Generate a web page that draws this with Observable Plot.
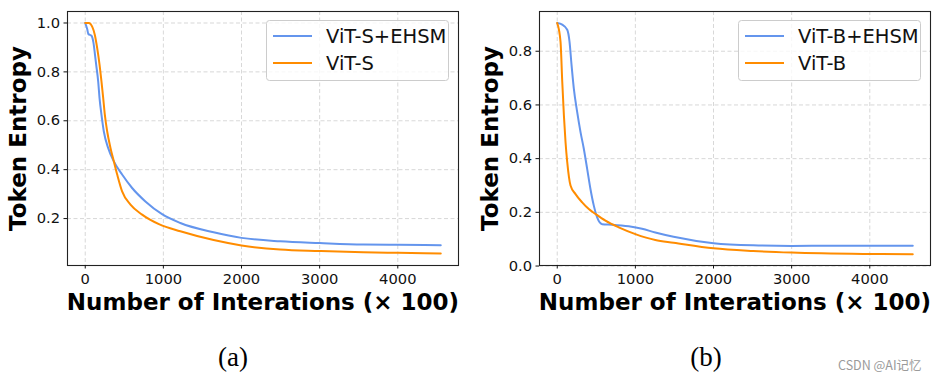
<!DOCTYPE html>
<html><head><meta charset="utf-8">
<script src="https://cdn.jsdelivr.net/npm/d3@7"></script>
<script src="https://cdn.jsdelivr.net/npm/@observablehq/plot@0.6"></script>
<style>
body{margin:0;background:#fff;width:944px;height:378px;overflow:hidden;position:relative;font-family:"DejaVu Sans";}
#row{display:flex;position:absolute;left:0;top:0;}
.cap{position:absolute;font-family:"Liberation Serif";font-size:27px;color:#000;transform:translate(-50%,-50%);white-space:nowrap;}
.wm{position:absolute;left:838px;top:355px;font-family:"Noto Sans CJK SC","DejaVu Sans";font-size:12.5px;color:#9a9a9a;white-space:nowrap;}
</style></head><body>
<div id="row"></div>
<div class="cap" style="left:233px;top:357px">(a)</div>
<div class="cap" style="left:706px;top:357px">(b)</div>
<div class="wm">CSDN @AI记忆</div>
<script>
// ---- data ----
const xTicks = [0, 1000, 2000, 3000, 4000];
const yTicksA = [0.2, 0.4, 0.6, 0.8, 1.0];
const yTicksB = [0.0, 0.2, 0.4, 0.6, 0.8];
const namesA = ["ViT-S+EHSM", "ViT-S"];
const namesB = ["ViT-B+EHSM", "ViT-B"];
const colors = ["#6495ED", "#FF8C00"];
const xLabel = "Number of Interations (× 100)";
const yLabel = "Token Entropy";

const iterA_ehsm = [0, 25, 40, 80, 105, 125, 140, 166, 183, 208, 238, 293, 366, 472, 600, 770, 983, 1217, 1643, 2000, 2494, 3000, 3558, 4000, 4550];
const entA_ehsm  = [1.0, 0.975, 0.955, 0.948, 0.92, 0.87, 0.83, 0.76, 0.693, 0.624, 0.556, 0.489, 0.434, 0.38, 0.325, 0.27, 0.218, 0.182, 0.144, 0.121, 0.107, 0.10, 0.094, 0.093, 0.091];
const iterA_base = [0, 46, 89, 123, 153, 183, 208, 230, 251, 281, 323, 366, 409, 472, 579, 728, 950, 1217, 1643, 2000, 2494, 3000, 3558, 4000, 4550];
const entA_base  = [1.0, 1.0, 0.985, 0.951, 0.897, 0.83, 0.76, 0.693, 0.624, 0.556, 0.489, 0.434, 0.38, 0.311, 0.257, 0.216, 0.176, 0.148, 0.112, 0.09, 0.073, 0.067, 0.062, 0.06, 0.057];

const iterB_ehsm = [0, 64, 128, 157, 183, 212, 255, 298, 340, 383, 425, 468, 511, 575, 702, 915, 1085, 1255, 1489, 2000, 2507, 3000, 4000, 4550];
const entB_ehsm  = [0.905, 0.899, 0.88, 0.836, 0.749, 0.662, 0.574, 0.499, 0.437, 0.362, 0.287, 0.225, 0.181, 0.156, 0.154, 0.148, 0.139, 0.125, 0.109, 0.085, 0.077, 0.075, 0.076, 0.076];
const iterB_base = [0, 42, 64, 85, 106, 128, 170, 234, 319, 404, 489, 617, 787, 1000, 1255, 1489, 2000, 2507, 3000, 4000, 4550];
const entB_base  = [0.905, 0.836, 0.687, 0.562, 0.462, 0.387, 0.30, 0.268, 0.237, 0.212, 0.194, 0.169, 0.144, 0.119, 0.097, 0.087, 0.066, 0.056, 0.05, 0.045, 0.044];

function rows(names, pairs) {
  return pairs.flatMap(([xs, ys], i) => xs.map((x, j) => ({series: names[i], iter: x, ent: ys[j]})));
}

function panel(names, pairs, yDomain, yTicks) {
  const data = rows(names, pairs);
  const svg = Plot.plot({
    width: 472, height: 320,
    marginLeft: 67, marginRight: 14, marginTop: 11, marginBottom: 55,
    style: {fontFamily: "DejaVu Sans", fontSize: "14.7px", color: "#111", background: "white"},
    x: {domain: [-227, 4777]},
    y: {domain: yDomain},
    color: {domain: names, range: colors},
    marks: [
      Plot.gridX(xTicks, {stroke: "#b0b0b0", strokeOpacity: 0.55, strokeDasharray: "4,2.5", strokeWidth: 0.9}),
      Plot.gridY(yTicks, {stroke: "#b0b0b0", strokeOpacity: 0.55, strokeDasharray: "4,2.5", strokeWidth: 0.9}),
      Plot.line(data, {x: "iter", y: "ent", z: "series", stroke: "series", strokeWidth: 2, curve: "monotone-x"}),
      Plot.frame({stroke: "#222", strokeWidth: 1.1}),
      Plot.axisX(xTicks, {tickSize: 3.5, tickPadding: 5, tickFormat: d3.format("d"), label: null}),
      Plot.axisY(yTicks, {tickSize: 3.5, tickPadding: 4, tickFormat: d3.format(".1f"), label: null}),
      Plot.text([xLabel], {frameAnchor: "bottom", dy: 37, lineAnchor: "middle", textAnchor: "middle", fontSize: 23, fontWeight: "bold", text: d => d, fill: "#000"}),
      Plot.text([yLabel], {frameAnchor: "left", dx: -49, rotate: -90, lineAnchor: "middle", textAnchor: "middle", fontSize: 23, fontWeight: "bold", text: d => d, fill: "#000"})
    ]
  });
  const g = d3.select(svg).append("g").attr("text-anchor", "start");
  g.append("rect").attr("x", 266.5).attr("y", 20.5).attr("width", 182).attr("height", 60)
    .attr("rx", 3).attr("fill", "white").attr("fill-opacity", 0.8).attr("stroke", "#cccccc");
  names.forEach((n, i) => {
    const y = 36 + i * 27;
    g.append("line").attr("x1", 273).attr("x2", 312).attr("y1", y).attr("y2", y)
      .attr("stroke", colors[i]).attr("stroke-width", 2);
    g.append("text").attr("x", 326).attr("y", y).attr("dy", "0.35em").attr("text-anchor", "start")
      .attr("font-size", 19.5).attr("font-family", "DejaVu Sans").attr("fill", "#111").text(n);
  });
  return svg;
}

const row = document.getElementById("row");
row.appendChild(panel(namesA, [[iterA_ehsm, entA_ehsm], [iterA_base, entA_base]], [0.008, 1.047], yTicksA));
row.appendChild(panel(namesB, [[iterB_ehsm, entB_ehsm], [iterB_base, entB_base]], [0.002, 0.948], yTicksB));
</script>
</body></html>
